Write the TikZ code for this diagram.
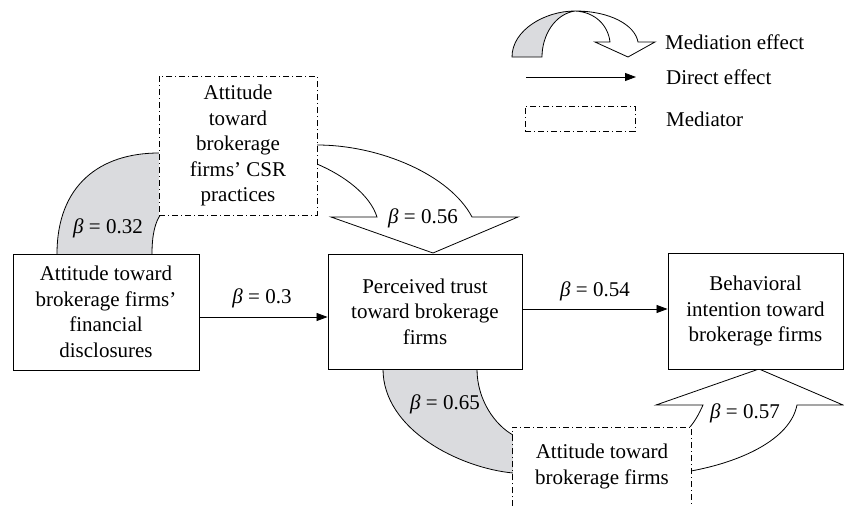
\documentclass[tikz,border=0pt]{standalone}
\usepackage{fontspec}
\setmainfont{Liberation Serif}
\usetikzlibrary{arrows.meta}
\definecolor{medgray}{RGB}{218,219,222}
\tikzset{
  every node/.style={font=\fontsize{21}{25.5}\selectfont, inner sep=0pt},
  box/.style={draw, line width=0.9pt, fill=white, align=center},
  medline/.style={line width=0.9pt, dash pattern=on 6pt off 3pt on 1pt off 3pt},
  medbox/.style={medline, draw, fill=white, align=center},
  direct/.style={line width=0.8pt, -{Triangle[length=11pt,width=8pt]}},
  ribbon/.style={line width=0.8pt},
  shade/.style={fill=medgray},
}
\begin{document}
\begin{tikzpicture}[x=1pt,y=-1pt]
\useasboundingbox (0,0) rectangle (844,506);

% ---- legend ----
\fill[shade] (512,57) .. controls (512,30) and (545,11) .. (575,11)
  .. controls (555,14) and (542,35) .. (542,57) -- cycle;
\draw[ribbon] (512,57) .. controls (512,30) and (545,11) .. (575,11)
  .. controls (555,14) and (542,35) .. (542,57) -- cycle;
\draw[ribbon, fill=white] (575,11) .. controls (610,11) and (635,25) .. (638,42)
  -- (655,42) -- (628,57) -- (595,42) -- (610,42)
  .. controls (608,25) and (595,12) .. (575,11) -- cycle;
\node[anchor=west] (legmed) at (665,42) {Mediation effect};
\coordinate (la) at (526,77);
\coordinate (lb) at (636,77);
\draw[direct] (la) -- (lb);
\node[anchor=west] (legdir) at (666,77) {Direct effect};
\node[medbox, minimum width=110pt, minimum height=25pt] (legbox) at (580,118.5) {};
\node[anchor=west] (legmbox) at (666,119) {Mediator};

% ---- mediation beta = 0.32 (grey) ----
\fill[shade] (57,254) .. controls (57,185) and (100,153) .. (162,153)
  -- (162,214) -- (161,214) .. controls (155,222) and (152,235) .. (152,254) -- cycle;
\draw[ribbon] (57,254) .. controls (57,185) and (100,153) .. (159,153);
\draw[ribbon] (161,214) .. controls (155,222) and (152,235) .. (152,254);

% ---- mediation beta = 0.56 (hollow) ----
\draw[ribbon] (317,145) .. controls (380,145) and (450,175) .. (472,217)
  -- (518,217) -- (433,253) -- (331,217) -- (377,217)
  .. controls (370,195) and (345,176) .. (317,164);

% ---- mediation beta = 0.65 (grey) ----
\fill[shade] (383,369) .. controls (383,430) and (460,468) .. (516,473)
  -- (516,435) -- (513,435) .. controls (495,425) and (477,400) .. (477,369) -- cycle;
\draw[ribbon] (383,369) .. controls (383,430) and (460,468) .. (513,473);
\draw[ribbon] (513,435) .. controls (495,425) and (477,400) .. (477,369);

% ---- mediation beta = 0.57 (hollow) ----
\draw[ribbon] (691,471) .. controls (740,462) and (790,440) .. (797,405)
  -- (843,405) -- (759,369) -- (656,405) -- (703,405)
  .. controls (699,414) and (695,421) .. (690,427);

% ---- boxes ----
\node[box, minimum width=186pt, minimum height=116pt] (fin) at (106,312)
  {Attitude toward\\brokerage firms’\\financial\\disclosures};
\node[box, minimum width=194pt, minimum height=115pt] (trust) at (425,311.5)
  {Perceived trust\\toward brokerage\\firms};
\node[box, minimum width=175pt, minimum height=116pt] (intent) at (755.5,311)
  {Behavioral\\intention toward\\brokerage firms};
\node[medbox, minimum width=158pt, minimum height=139pt] (csr) at (238,145.5)
  {Attitude\\toward\\brokerage\\firms’ CSR\\practices};
\node[fill=white, align=center, minimum width=178pt, minimum height=79pt, anchor=north]
  (att) at (602,427) {Attitude toward\\brokerage firms};
\draw[medline] (att.south west) -- (att.north west) -- (att.north east) -- (att.south east);

% ---- direct effects ----
\draw[direct] ([yshift=-5pt]fin.east) -- ([yshift=-5pt]fin.east -| trust.west);
\draw[direct] ([yshift=2.5pt]trust.east) -- ([yshift=2.5pt]trust.east -| intent.west);

% ---- labels ----
\node (b03) at (262,298) {\textit{β} = 0.3};
\node (b054) at (595,291) {\textit{β} = 0.54};
\node (b032) at (108,228) {\textit{β} = 0.32};
\node (b056) at (423,218) {\textit{β} = 0.56};
\node (b065) at (445,404) {\textit{β} = 0.65};
\node (b057) at (745,413) {\textit{β} = 0.57};
\end{tikzpicture}
\end{document}
